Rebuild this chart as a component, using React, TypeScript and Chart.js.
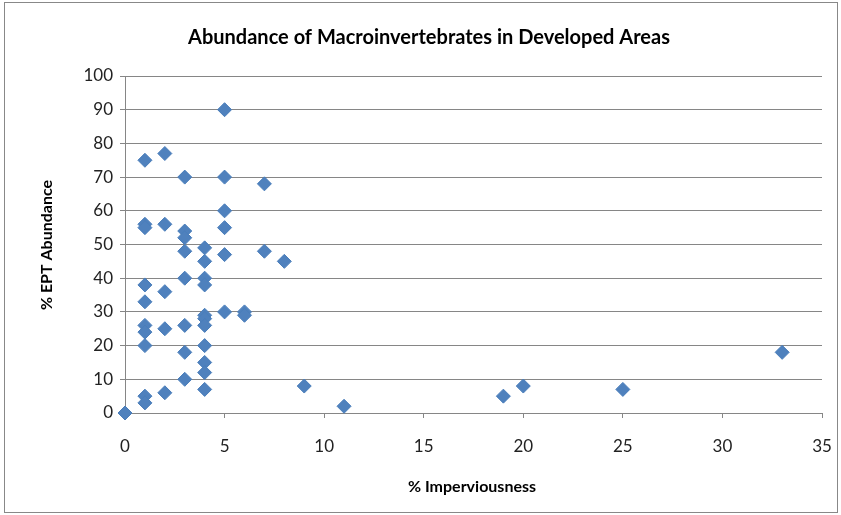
import React, { useEffect, useRef } from "react";
import { Chart, registerables } from "chart.js";

Chart.register(...registerables);

const chartTitle = "Abundance of Macroinvertebrates in Developed Areas";
const xAxisTitle = "% Imperviousness";
const yAxisTitle = "% EPT Abundance";

const imperviousness = [
  0,
  1, 1, 1, 1, 1, 1, 1, 1, 1, 1,
  2, 2, 2, 2, 2,
  3, 3, 3, 3, 3, 3, 3, 3,
  4, 4, 4, 4, 4, 4, 4, 4, 4, 4, 4,
  5, 5, 5, 5, 5, 5,
  6, 6,
  7, 7,
  8, 9, 11, 19, 20, 25, 33,
];
const eptAbundance = [
  0,
  75, 56, 55, 38, 33, 26, 24, 20, 5, 3,
  77, 56, 36, 25, 6,
  70, 54, 52, 48, 40, 26, 18, 10,
  49, 45, 40, 38, 29, 28, 26, 20, 15, 12, 7,
  90, 70, 60, 55, 47, 30,
  30, 29,
  68, 48,
  45, 8, 2, 5, 8, 7, 18,
];

const W = 841;
const H = 515;
const PLOT_LEFT = 125;
const PLOT_RIGHT = 822;
const PLOT_TOP = 76;
const PLOT_BOTTOM = 413;
const FONT = "Lato, 'Open Sans', sans-serif";

export default function App() {
  const ref = useRef<HTMLCanvasElement | null>(null);
  useEffect(() => {
    if (!ref.current) return;
    const textPlugin = {
      id: "texts",
      beforeDraw(chart: any) {
        const ctx = chart.ctx;
        ctx.save();
        ctx.fillStyle = "#ffffff";
        ctx.fillRect(0, 0, W, H);
        ctx.strokeStyle = "#888888";
        ctx.lineWidth = 1;
        ctx.strokeRect(4.5, 2.5, 833, 510);
        ctx.restore();
      },
      afterDraw(chart: any) {
        const ctx = chart.ctx;
        ctx.save();
        ctx.fillStyle = "#000000";
        ctx.textAlign = "center";
        ctx.textBaseline = "middle";
        ctx.font = `bold 20px ${FONT}`;
        ctx.fillText(chartTitle, 429, 38);
        ctx.font = `bold 16px ${FONT}`;
        ctx.fillText(xAxisTitle, 472, 487);
        ctx.translate(47, 245);
        ctx.rotate(-Math.PI / 2);
        ctx.fillText(yAxisTitle, 0, 0);
        ctx.restore();
      },
    };
    const chart = new Chart(ref.current, {
      type: "scatter",
      data: {
        datasets: [
          {
            label: "EPT",
            data: imperviousness.map((x, i) => ({ x, y: eptAbundance[i] })),
            pointStyle: "rectRot",
            pointRadius: 7,
            pointBackgroundColor: "#4F81BD",
            pointBorderColor: "#4A7EBB",
            pointBorderWidth: 1,
            clip: false,
          },
        ],
      },
      options: {
        animation: false,
        responsive: false,
        devicePixelRatio: 1,
        layout: {
          padding: { left: 0, top: PLOT_TOP, right: W - PLOT_RIGHT, bottom: 0 },
        },
        plugins: {
          legend: { display: false },
          title: { display: false },
          tooltip: { enabled: false },
        },
        scales: {
          x: {
            type: "linear",
            min: 0,
            max: 35,
            afterFit(scale: any) {
              scale.height = H - PLOT_BOTTOM;
              scale.paddingLeft = 0;
              scale.paddingRight = 0;
            },
            ticks: {
              stepSize: 5,
              color: "#222222",
              font: { family: FONT, size: 17 },
              padding: 18,
            },
            grid: {
              display: true,
              drawOnChartArea: false,
              drawTicks: true,
              tickLength: 5,
              color: "#868686",
            },
            border: { display: true, color: "#868686", width: 1 },
          },
          y: {
            type: "linear",
            min: 0,
            max: 100,
            afterFit(scale: any) {
              scale.width = PLOT_LEFT;
              scale.paddingTop = 0;
              scale.paddingBottom = 0;
            },
            ticks: {
              stepSize: 10,
              color: "#222222",
              font: { family: FONT, size: 17 },
              padding: 7,
            },
            grid: {
              display: true,
              drawOnChartArea: true,
              drawTicks: true,
              tickLength: 5,
              color: "#868686",
            },
            border: { display: true, color: "#868686", width: 1 },
          },
        },
      },
      plugins: [textPlugin],
    });
    return () => chart.destroy();
  }, []);
  return (
    <div style={{ position: "fixed", left: 0, top: 0, width: W, height: H }}>
      <canvas ref={ref} width={W} height={H} style={{ width: W, height: H }} />
    </div>
  );
}
